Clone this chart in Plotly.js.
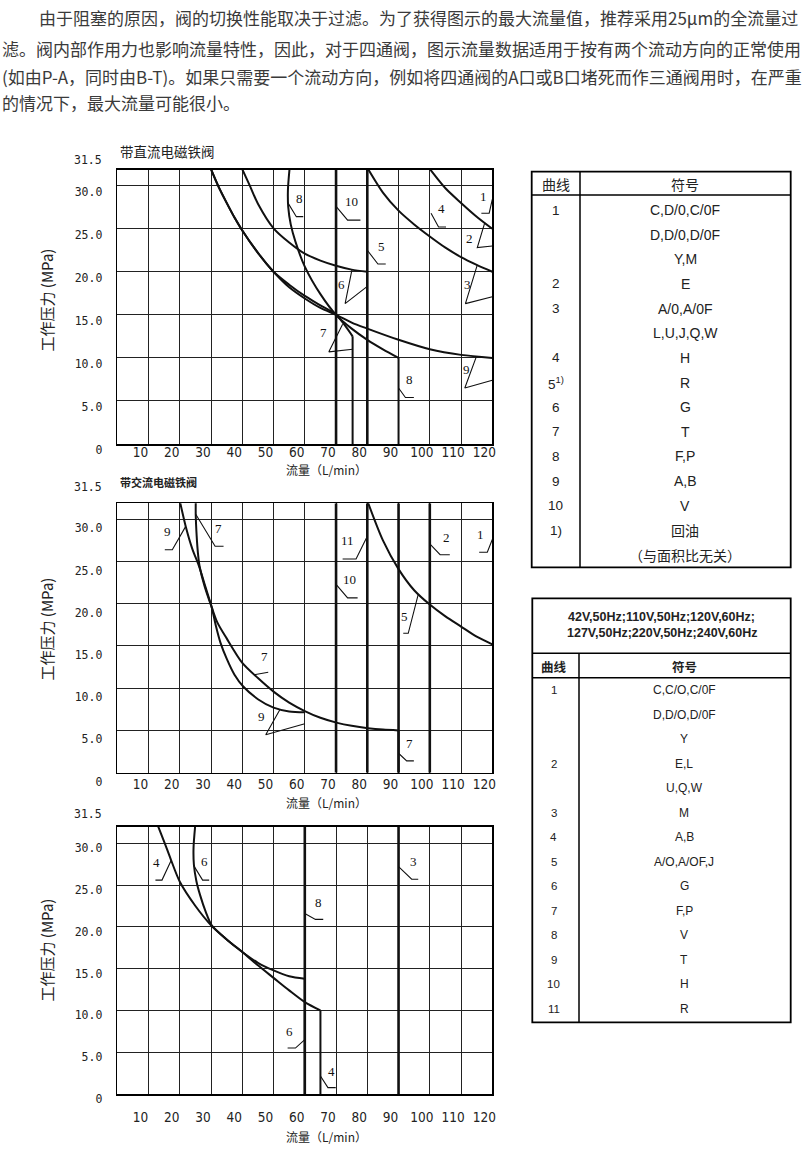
<!DOCTYPE html>
<html><head><meta charset="utf-8">
<script src="https://cdn.plot.ly/plotly-3.0.1.min.js"></script>
<style>html,body{margin:0;padding:0;background:#fff}</style>
</head><body><div id="chart" style="width:808px;height:1162px"></div>
<script>
// ---------------- data ----------------
const xTicks = [10,20,30,40,50,60,70,80,90,100,110,120];
const yTicks = [0,5,10,15,20,25,30];
const yTickText = ['0','5.0','10.0','15.0','20.0','25.0','30.0'];
const yTopLabel = '31.5';
const xTitle = '流量（L/min）';
const yTitle = '工作压力 (MPa)';
const dcTitle = '带直流电磁铁阀';
const acTitle = '带交流电磁铁阀';

const paraLines = [
  '由于阻塞的原因，阀的切换性能取决于过滤。为了获得图示的最大流量值，推荐采用25μm的全流量过',
  '滤。阀内部作用力也影响流量特性，因此，对于四通阀，图示流量数据适用于按有两个流动方向的正常使用',
  '(如由P-A，同时由B-T)。如果只需要一个流动方向，例如将四通阀的A口或B口堵死而作三通阀用时，在严重',
  '的情况下，最大流量可能很小。'
];

// chart 1: DC solenoid valve
const dcC1X = [100.1,105,110,115,120];
const dcC1Y = [31.9,29.7,28.0,26.4,25.0];
const dcC4X = [80.3,85,90,95,100,105,110,115,120];
const dcC4Y = [31.9,29.2,27.1,25.5,24.1,22.8,21.7,20.8,20.0];
const dcC6X = [40,42.4,45,50,55,60,65,70,75,80];
const dcC6Y = [31.9,30.0,27.9,25.05,23.4,22.1,21.3,20.7,20.25,20.0];
const dcC8X = [55.1,54.6,54.7,55.5,57,60,65,70,75,80,85,90,90];
const dcC8Y = [31.9,29.5,27.5,25.5,23.5,20.6,17.4,15.0,13.4,12.1,11.0,10.0,0];
const dcC9X = [30,32.5,35,37.5,40,45,50,55,60,65,70,75,80,90,100,110,120];
const dcC9Y = [31.9,29.8,28.0,26.3,24.8,22.2,20.0,18.2,16.9,15.8,15.0,14.1,13.4,12.1,11.0,10.35,10.0];
const dcC7X = [30,32.5,35,37.5,40,45,50,55,60,65,70,75.3,75.3];
const dcC7Y = [31.9,29.8,28.0,26.3,24.8,22.2,20.0,18.5,17.2,16.1,15.0,12.5,0];
const dcLimitX = [70,80];
const dcCallouts = [
  ['10',75.1,28.2,[70,73.7,77.8],[27.6,26.0,26.0]],
  ['8',58.3,28.5,[54.6,57.3,59.5],[28.0,26.4,26.4]],
  ['4',103.9,27.3,[100.4,102.8,105.2],[26.8,25.2,25.2]],
  ['1',117.2,28.7,[120,119,116.5],[28.4,26.8,26.8]],
  ['2',112.7,23.9,[117.6,115.2,120],[25.7,22.8,23.0]],
  ['5',84.5,22.9,[80,83.4,85.9],[22.5,20.9,20.9]],
  ['3',112,18.5,[115.2,111.4,120],[20.8,16.3,17.1]],
  ['6',71.8,18.5,[75.1,72.9,80],[20.25,16.3,18.3]],
  ['7',66.1,12.9,[72.1,67.7,75.3],[13.9,10.7,11.0]],
  ['9',111.8,8.6,[114.9,111.2,120],[10.15,6.5,7.4]],
  ['8',93.6,7.5,[90,92.2,94.9],[6.5,5.4,5.4]]
];

// chart 2: AC solenoid valve
const acC9X = [20.1,22,24,26.2,28.2,30.2,31.6,33,35,37.5,40.3,45,50,55,60];
const acC9Y = [32,29,26.5,24.4,22,19.6,17.3,15.4,13.5,11.6,10.2,8.7,7.7,7.25,7.15];
const acC7X = [25.1,25.1,25.4,25.8,26.3,28,30.2,32,35,40,45,50,55,60,65,70.4,75,80.2,85,90,90];
const acC7Y = [32,30.5,28,26,24.5,22,19.6,17.8,15.9,13.0,11.2,9.6,8.3,7.3,6.5,5.9,5.55,5.27,5.1,5.0,0];
const acC5X = [80.2,85,90,95,100,105,110,115,120];
const acC5Y = [32,27.5,24.1,21.6,19.9,18.5,17.3,16.1,15.2];
const acLimitX = [70,80,90,100];
const acCallouts = [
  ['9',16.0,28.5,[21.8,17.6,15.2],[29.1,26.4,26.4]],
  ['7',32.4,28.9,[25.1,31.3,34.0],[30.6,26.8,26.8]],
  ['11',73.7,27.5,[80,76.4,72.1],[28.0,25.3,25.3]],
  ['2',105.2,27.9,[100,103.3,106.4],[27.1,25.8,25.8]],
  ['1',116.3,28.2,[120,118.4,115.8],[27.6,26.1,26.1]],
  ['10',74.4,22.9,[70,73.7,76.9],[22.3,20.7,20.7]],
  ['5',92,18.5,[96.3,93.1,91.5],[21.1,16.5,16.5]],
  ['7',47.2,13.8,[43.8,48.3],[11.6,11.9]],
  ['9',46,6.6,[52.1,47.5,60],[7.5,4.5,5.8]],
  ['7',93.6,3.5,[90,92.6,94.9],[2.3,1.4,1.4]]
];

// chart 3
const p3C4X = [13.1,15.2,17,20,25,30,35,40,45,50,55,60,65,65];
const p3C4Y = [32,30,28.2,25.4,22.5,20.2,18.5,17.0,15.4,13.9,12.4,11.0,10.0,0];
const p3C6X = [24.9,24.4,24.5,25.3,26.5,28.3,30.2,35,40,45,50,55,60,60];
const p3C6Y = [32,29.5,27.5,25.5,23.8,21.8,20.2,18.5,17.0,15.7,14.8,14.1,13.8,0];
const p3LimitX = [60,90];
const p3Callouts = [
  ['4',12.7,27.7,[17.3,14.3,12.2],[28.0,25.6,25.6]],
  ['6',28.0,27.8,[24.5,27.3,29.4],[27.3,25.6,25.6]],
  ['8',64.5,22.9,[60,63.4,65.9],[21.6,20.9,20.9]],
  ['3',94.9,27.8,[90,94.2,96.3],[27.2,25.7,25.7]],
  ['6',55.1,7.5,[60,57,54.5],[6.5,5.5,5.5]],
  ['4',68.6,2.75,[65,67.4,69.9],[2.15,0.76,0.76]]
];

// tables
const tab1Header = ['曲线','符号'];
const tab1Curve = ['1','','','2','3','','4','5<sup>1)</sup>','6','7','8','9','10','1)',''];
const tab1Symbol = ['C,D/0,C/0F','D,D/0,D/0F','Y,M','E','A/0,A/0F','L,U,J,Q,W','H','R','G','T','F,P','A,B','V','回油','（与面积比无关）'];
const tab2Title = ['42V,50Hz;110V,50Hz;120V,60Hz;','127V,50Hz;220V,50Hz;240V,60Hz'];
const tab2Header = ['曲线','符号'];
const tab2Curve = ['1','','','2','','3','4','5','6','7','8','9','10','11'];
const tab2Symbol = ['C,C/O,C/0F','D,D/O,D/0F','Y','E,L','U,Q,W','M','A,B','A/O,A/OF,J','G','F,P','V','T','H','R'];

// ---------------- drawing ----------------
const W = 808, H = 1162;
const X = p => p / W, Y = p => 1 - p / H;
const INK = '#111';
const CJK = 'Noto Sans CJK SC, sans-serif';
const NUMF = 'Liberation Serif, serif';
const LAT = 'Liberation Sans, Arial, sans-serif';

const panels = [
  {sfx:'',  top:170,   bottom:444,  yMax:31.82, shiftY:6, standX:-5, topLbl:160,   xt:470,   yt:300,
   curves:[[dcC1X,dcC1Y],[dcC4X,dcC4Y],[dcC6X,dcC6Y],[dcC8X,dcC8Y],[dcC9X,dcC9Y],[dcC7X,dcC7Y]], limits:dcLimitX, callouts:dcCallouts},
  {sfx:'2', top:503.3, bottom:772.7, yMax:31.89, shiftY:9, standX:-2, topLbl:486.7, xt:802.5, yt:629,
   curves:[[acC9X,acC9Y],[acC7X,acC7Y],[acC5X,acC5Y]], limits:acLimitX, callouts:acCallouts},
  {sfx:'3', top:826.7, bottom:1094, yMax:31.99, shiftY:5, standX:10, topLbl:814, xt:1136, yt:950,
   curves:[[p3C4X,p3C4Y],[p3C6X,p3C6Y]], limits:p3LimitX, callouts:p3Callouts}
];

const traces = [];
const annotations = [];
const shapes = [];
const layout = {
  width: W, height: H, margin:{l:0,r:0,t:0,b:0},
  paper_bgcolor:'#fff', plot_bgcolor:'#fff', showlegend:false,
  font:{family:CJK, color:INK}
};

panels.forEach(p => {
  const xa = 'x' + p.sfx, ya = 'y' + p.sfx;
  layout['xaxis' + p.sfx] = {
    domain:[X(117.3), X(492.3)], range:[0,120], anchor:ya,
    tickvals:xTicks, ticktext:xTicks.map(String), ticks:'',
    showgrid:true, gridcolor:'#222', gridwidth:1, zeroline:false,
    showline:true, mirror:true, linecolor:'#000', linewidth:1.6,
    ticklabelshift:-8, ticklabelstandoff:p.standX,
    tickfont:{family:'Liberation Sans Narrow, DejaVu Sans Condensed, sans-serif', size:13.5, color:'#222'},
    fixedrange:true
  };
  layout['yaxis' + p.sfx] = {
    domain:[Y(p.bottom), Y(p.top)], range:[0,p.yMax], anchor:xa,
    tickvals:yTicks, ticktext:yTickText, ticks:'',
    showgrid:true, gridcolor:'#222', gridwidth:1, zeroline:false,
    showline:true, mirror:true, linecolor:'#000', linewidth:1.6,
    ticklabelshift:p.shiftY, ticklabelstandoff:11,
    tickfont:{family:'DejaVu Sans Mono, monospace', size:11.5, color:'#222'},
    fixedrange:true
  };
  // heavy full-height limit lines
  p.limits.forEach(v => traces.push({type:'scatter', mode:'lines', x:[v,v], y:[0,p.yMax],
    xaxis:xa, yaxis:ya, line:{color:INK, width:2.6}, hoverinfo:'skip'}));
  // curves
  p.curves.forEach(([xs, ys]) => {
    const n = xs.length;
    const drop = n > 2 && xs[n-1] === xs[n-2] && ys[n-1] === 0;
    const m = drop ? n - 1 : n;
    traces.push({type:'scatter', mode:'lines', x:xs.slice(0,m), y:ys.slice(0,m),
      xaxis:xa, yaxis:ya, line:{color:INK, width:2, shape:'spline', smoothing:0.8}, hoverinfo:'skip'});
    if (drop) traces.push({type:'scatter', mode:'lines', x:xs.slice(n-2), y:ys.slice(n-2),
      xaxis:xa, yaxis:ya, line:{color:INK, width:2}, hoverinfo:'skip'});
  });
  // callouts
  p.callouts.forEach(([t, tx, ty, lx, ly]) => {
    traces.push({type:'scatter', mode:'lines', x:lx, y:ly, xaxis:xa, yaxis:ya,
      line:{color:INK, width:1.1}, hoverinfo:'skip'});
    annotations.push({xref:xa, yref:ya, x:tx, y:ty, text:t, showarrow:false,
      font:{family:NUMF, size:13, color:INK}});
  });
  // top tick label 31.5
  annotations.push({xref:'paper', yref:'paper', x:X(103.5), y:Y(p.topLbl), xanchor:'right', yanchor:'middle',
    text:yTopLabel, showarrow:false, font:{family:'DejaVu Sans Mono, monospace', size:11.5, color:'#222'}});
  // axis titles
  annotations.push({xref:'paper', yref:'paper', x:X(326), y:Y(p.xt), xanchor:'center', yanchor:'middle',
    text:xTitle, showarrow:false, font:{family:CJK, size:12, color:'#222'}});
  annotations.push({xref:'paper', yref:'paper', x:X(45.5), y:Y(p.yt), xanchor:'center', yanchor:'middle',
    text:yTitle, textangle:-90, showarrow:false, font:{family:CJK, size:15, color:'#222'}});
});

// chart titles
annotations.push({xref:'paper', yref:'paper', x:X(118), y:Y(150.7), xanchor:'left', yanchor:'middle',
  text:dcTitle, showarrow:false, font:{family:CJK, size:13.5, color:'#222'}});
annotations.push({xref:'paper', yref:'paper', x:X(118), y:Y(481.7), xanchor:'left', yanchor:'middle',
  text:'<b>' + acTitle + '</b>', showarrow:false, font:{family:CJK, size:11, color:'#222'}});

// paragraph
const paraX = [37, 0, 0, 0], paraY = [18, 48, 76, 102];
paraLines.forEach((t, i) => annotations.push({xref:'paper', yref:'paper', x:X(paraX[i]), y:Y(paraY[i]),
  xanchor:'left', yanchor:'middle', text:t, showarrow:false, font:{family:CJK, size:17, color:'#3a3a3a'}}));

// table helpers
const rect = (x0,y0,x1,y1,w) => ({type:'rect', xref:'paper', yref:'paper', x0:X(x0), x1:X(x1), y0:Y(y0), y1:Y(y1),
  line:{color:'#000', width:w}});
const hline = (x0,x1,y,w) => ({type:'line', xref:'paper', yref:'paper', x0:X(x0), x1:X(x1), y0:Y(y), y1:Y(y), line:{color:'#000', width:w}});
const vline = (x,y0,y1,w) => ({type:'line', xref:'paper', yref:'paper', x0:X(x), x1:X(x), y0:Y(y0), y1:Y(y1), line:{color:'#000', width:w}});
const txt = (s,x,y,size,fam) => ({xref:'paper', yref:'paper', x:X(x), y:Y(y), xanchor:'center', yanchor:'middle',
  text:s, showarrow:false, font:{family:fam, size:size, color:'#222'}});

// table 1
shapes.push(rect(531.7,171.7,790.7,567.3,1.8), hline(531.7,790.7,195,1.5), vline(580,171.7,567.3,1.5));
annotations.push(txt(tab1Header[0],555.5,184,14,CJK), txt(tab1Header[1],685,184,14,CJK));
tab1Curve.forEach((c,i) => { if (c) annotations.push(txt(c,555.5,210+i*24.65,13.5,LAT)); });
tab1Symbol.forEach((s,i) => annotations.push(txt(s,685,210+i*24.65,14,/[\u4e00-\u9fff]/.test(s)?CJK:LAT)));

// table 2
shapes.push(rect(532.3,598.3,790.7,1022.3,1.8), hline(532.3,790.7,653.3,1.5), hline(532.3,790.7,677.7,1.5), vline(579,653.3,1022.3,1.5));
annotations.push(txt('<b>'+tab2Title[0]+'</b>',661.5,616.7,12.5,LAT));
annotations.push(txt('<b>'+tab2Title[1]+'</b>',661.5,633.3,12.5,LAT));
annotations.push(txt('<b>'+tab2Header[0]+'</b>',553.5,666,12.5,CJK), txt('<b>'+tab2Header[1]+'</b>',684,666,12.5,CJK));
tab2Curve.forEach((c,i) => { if (c) annotations.push(txt(c,553.5,690+i*24.54,11.5,LAT)); });
tab2Symbol.forEach((s,i) => annotations.push(txt(s,684,690+i*24.54,12,LAT)));

layout.annotations = annotations;
layout.shapes = shapes;
Plotly.newPlot('chart', traces, layout, {staticPlot:true, displayModeBar:false});
</script></body></html>
